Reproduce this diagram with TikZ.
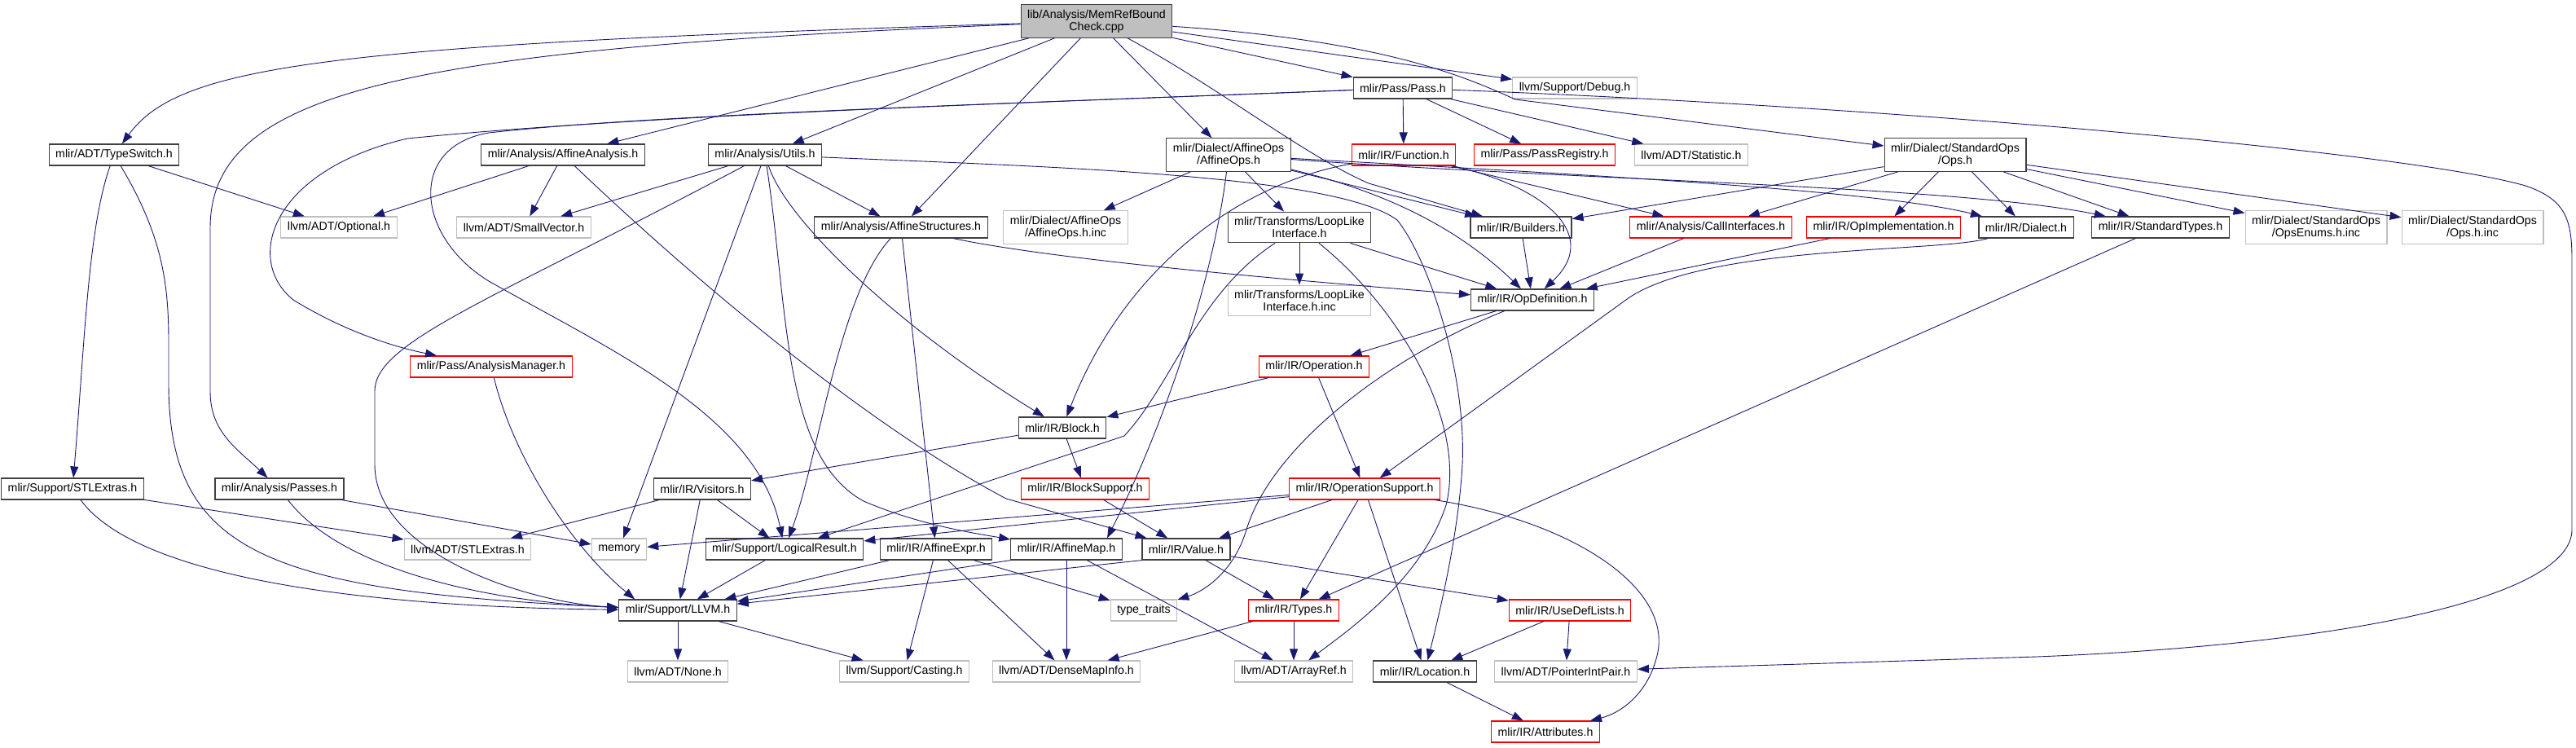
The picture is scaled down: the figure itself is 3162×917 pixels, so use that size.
\documentclass[tikz,border=0pt]{standalone}
\usepackage{fontspec}
\setmainfont{Liberation Sans}
\usetikzlibrary{arrows.meta}
\definecolor{edgeblue}{HTML}{191970}
\definecolor{greyA}{HTML}{404040}
\definecolor{greyB}{HTML}{BFBFBF}

\begin{document}
\begin{tikzpicture}[x=0.5pt,y=-0.5pt,
    nodebox/.style={draw,rectangle,fill=white,line width=0.6pt,align=center,
        inner xsep=4pt,inner ysep=3pt,minimum height=13pt,
        font=\fontsize{7.1}{7.6}\selectfont},
    docnode/.style={nodebox,draw=greyA},
    extnode/.style={nodebox,draw=greyB},
    trnode/.style={nodebox,draw=red},
    srcnode/.style={nodebox,draw=greyA,fill=greyB},
    incl/.style={draw=edgeblue,line width=0.45pt,-{Triangle[length=7pt,width=5pt]}}]
    \useasboundingbox (0,0) rectangle (3162,917);

    \node[srcnode] (src) at (1346,26) {lib/Analysis/MemRefBound\\Check.cpp};
    \node[docnode] (pass) at (1722,108) {mlir/Pass/Pass.h};
    \node[extnode] (debug) at (1933,108) {llvm/Support/Debug.h};
    \node[docnode] (typeswitch) at (140,190) {mlir/ADT/TypeSwitch.h};
    \node[docnode] (affan) at (691,190) {mlir/Analysis/AffineAnalysis.h};
    \node[docnode] (utils) at (939,190) {mlir/Analysis/Utils.h};
    \node[docnode] (affops) at (1508,190) {mlir/Dialect/AffineOps\\/AffineOps.h};
    \node[trnode] (function) at (1723,190) {mlir/IR/Function.h};
    \node[trnode] (passreg) at (1896,190) {mlir/Pass/PassRegistry.h};
    \node[extnode] (statistic) at (2076,190) {llvm/ADT/Statistic.h};
    \node[docnode] (stdops) at (2400,190) {mlir/Dialect/StandardOps\\/Ops.h};
    \node[extnode] (optional) at (416,279) {llvm/ADT/Optional.h};
    \node[extnode] (smallvec) at (643,279) {llvm/ADT/SmallVector.h};
    \node[docnode] (affstruct) at (1106,279) {mlir/Analysis/AffineStructures.h};
    \node[extnode] (affinc) at (1308,279) {mlir/Dialect/AffineOps\\/AffineOps.h.inc};
    \node[docnode] (looplike) at (1595,279) {mlir/Transforms/LoopLike\\Interface.h};
    \node[docnode] (builders) at (1867,279) {mlir/IR/Builders.h};
    \node[trnode] (callif) at (2100,279) {mlir/Analysis/CallInterfaces.h};
    \node[trnode] (opimpl) at (2312,279) {mlir/IR/OpImplementation.h};
    \node[docnode] (dialect) at (2487,279) {mlir/IR/Dialect.h};
    \node[docnode] (stdtypes) at (2652,279) {mlir/IR/StandardTypes.h};
    \node[extnode] (opsenums) at (2843,279) {mlir/Dialect/StandardOps\\/OpsEnums.h.inc};
    \node[extnode] (opsinc) at (3035,279) {mlir/Dialect/StandardOps\\/Ops.h.inc};
    \node[extnode] (loopinc) at (1595,369) {mlir/Transforms/LoopLike\\Interface.h.inc};
    \node[docnode] (opdef) at (1881,368) {mlir/IR/OpDefinition.h};
    \node[trnode] (anmgr) at (603,450) {mlir/Pass/AnalysisManager.h};
    \node[trnode] (operation) at (1613,450) {mlir/IR/Operation.h};
    \node[docnode] (block) at (1304,525) {mlir/IR/Block.h};
    \node[docnode] (stlmlir) at (89,600) {mlir/Support/STLExtras.h};
    \node[docnode] (passes) at (343,600) {mlir/Analysis/Passes.h};
    \node[docnode] (visitors) at (862,600) {mlir/IR/Visitors.h};
    \node[trnode] (blocksup) at (1332,600) {mlir/IR/BlockSupport.h};
    \node[trnode] (opsupport) at (1675,600) {mlir/IR/OperationSupport.h};
    \node[extnode] (stlllvm) at (574,674) {llvm/ADT/STLExtras.h};
    \node[extnode] (memory) at (760,674) {memory};
    \node[docnode] (logres) at (963,674) {mlir/Support/LogicalResult.h};
    \node[docnode] (affexpr) at (1149,674) {mlir/IR/AffineExpr.h};
    \node[docnode] (affmap) at (1309,674) {mlir/IR/AffineMap.h};
    \node[docnode] (value) at (1456,674) {mlir/IR/Value.h};
    \node[docnode] (llvm) at (832,749) {mlir/Support/LLVM.h};
    \node[extnode] (typetraits) at (1404,749) {type\_traits};
    \node[trnode] (types) at (1588,749) {mlir/IR/Types.h};
    \node[trnode] (usedef) at (1927,749) {mlir/IR/UseDefLists.h};
    \node[extnode] (none) at (832,824) {llvm/ADT/None.h};
    \node[extnode] (casting) at (1110,824) {llvm/Support/Casting.h};
    \node[extnode] (densemap) at (1309,824) {llvm/ADT/DenseMapInfo.h};
    \node[extnode] (arrayref) at (1588,824) {llvm/ADT/ArrayRef.h};
    \node[docnode] (location) at (1749,824) {mlir/IR/Location.h};
    \node[extnode] (pip) at (1922,824) {llvm/ADT/PointerIntPair.h};
    \node[trnode] (attributes) at (1897,898) {mlir/IR/Attributes.h};

    \draw[incl] (src) .. controls (400,55) and (220,80) .. (typeswitch);
    \draw[incl] (src) .. controls (500,60) and (258,110) .. (258,280) -- (258,480) .. controls (258,530) and (290,550) .. (passes);
    \draw[incl] (src) -- (affan);
    \draw[incl] (src) -- (utils);
    \draw[incl] (src) -- (affstruct);
    \draw[incl] (src) -- (affops);
    \draw[incl] (src) .. controls (1500,110) and (1600,190) .. (1680,225) -- (builders);
    \draw[incl] (src) -- (pass);
    \draw[incl] (src) -- (debug);
    \draw[incl] (src) .. controls (1700,50) and (1800,95) .. (1860,122) -- (stdops);

    \draw[incl] (pass) .. controls (1300,125) and (800,140) .. (500,170) .. controls (330,210) and (300,320) .. (360,368) .. controls (420,405) and (480,425) .. (anmgr);
    \draw[incl] (pass) .. controls (1300,125) and (800,140) .. (600,163) .. controls (500,180) and (510,290) .. (600,345) .. controls (750,430) and (930,510) .. (logres);
    \draw[incl] (pass) -- (function);
    \draw[incl] (pass) -- (passreg);
    \draw[incl] (pass) -- (statistic);
    \draw[incl] (pass) .. controls (2300,130) and (2950,185) .. (3100,228) .. controls (3150,245) and (3157,270) .. (3157,320) -- (3157,650) .. controls (3157,730) and (2900,790) .. (2500,806) -- (pip);

    \draw[incl] (function) .. controls (1520,225) and (1380,330) .. (block);
    \draw[incl] (function) -- (callif);
    \draw[incl] (function) .. controls (1900,230) and (1965,290) .. (opdef);

    \draw[incl] (affops) -- (affinc);
    \draw[incl] (affops) -- (looplike);
    \draw[incl] (affops) .. controls (1490,340) and (1430,520) .. ([xshift=25pt]affmap.north);
    \draw[incl] (affops) -- (builders);
    \draw[incl] (affops) .. controls (1700,235) and (1790,280) .. (opdef);
    \draw[incl] (affops) .. controls (1900,212) and (2300,232) .. (dialect);
    \draw[incl] (affops) .. controls (1950,222) and (2400,228) .. (stdtypes);

    \draw[incl] (utils) -- (smallvec);
    \draw[incl] (utils) .. controls (600,370) and (460,420) .. (460,480) -- (460,570) .. controls (460,680) and (650,740) .. (llvm);
    \draw[incl] (utils) -- (memory);
    \draw[incl] (utils) .. controls (968,380) and (960,560) .. (1060,615) .. controls (1130,645) and (1200,655) .. (affmap);
    \draw[incl] (utils) .. controls (965,270) and (1100,400) .. (block);
    \draw[incl] (utils) -- (affstruct);
    \draw[incl] (utils) .. controls (1300,205) and (1640,215) .. (1715,270) .. controls (1755,320) and (1800,460) .. (1795,570) .. controls (1790,660) and (1765,760) .. (location);

    \draw[incl] (affan) -- (optional);
    \draw[incl] (affan) -- (smallvec);
    \draw[incl] (affan) .. controls (880,370) and (1080,530) .. (1235,612) -- (value);

    \draw[incl] (typeswitch) -- (optional);
    \draw[incl] (typeswitch) .. controls (108,280) and (104,420) .. (stlmlir);
    \draw[incl] (typeswitch) .. controls (200,290) and (207,350) .. (207,420) -- (207,470) .. controls (207,680) and (330,725) .. (llvm);

    \draw[incl] (passes) -- (memory);
    \draw[incl] (passes) .. controls (420,700) and (600,738) .. (llvm);
    \draw[incl] (stlmlir) -- (stlllvm);
    \draw[incl] (stlmlir) .. controls (170,710) and (450,745) .. (llvm);
    \draw[incl] (anmgr) .. controls (630,560) and (700,670) .. ([xshift=10pt]llvm.north west);

    \draw[incl] (affstruct) .. controls (1030,360) and (1005,560) .. (logres);
    \draw[incl] (affstruct) -- (affexpr);
    \draw[incl] (affstruct) .. controls (1300,320) and (1600,345) .. (opdef);

    \draw[incl] (looplike) -- (loopinc);
    \draw[incl] (looplike) -- (opdef);
    \draw[incl] (looplike) .. controls (1470,360) and (1440,470) .. (1380,535) -- (logres);
    \draw[incl] (looplike) .. controls (1720,380) and (1800,520) .. (1775,620) .. controls (1745,710) and (1660,770) .. (arrayref);

    \draw[incl] (builders) -- (opdef);
    \draw[incl] (callif) -- (opdef);
    \draw[incl] (opimpl) -- (opdef);

    \draw[incl] (stdops) -- (builders);
    \draw[incl] (stdops) -- (callif);
    \draw[incl] (stdops) -- (opimpl);
    \draw[incl] (stdops) -- (dialect);
    \draw[incl] (stdops) -- (stdtypes);
    \draw[incl] (stdops) -- (opsenums);
    \draw[incl] (stdops) -- (opsinc);

    \draw[incl] (dialect) .. controls (2380,310) and (2100,300) .. (2000,365) -- (opsupport);
    \draw[incl] (stdtypes) -- (types);

    \draw[incl] (opdef) -- (operation);
    \draw[incl] (opdef) .. controls (1700,440) and (1560,550) .. (1530,650) .. controls (1515,700) and (1480,725) .. (typetraits);
    \draw[incl] (operation) -- (block);
    \draw[incl] (operation) -- (opsupport);
    \draw[incl] (block) -- (visitors);
    \draw[incl] (block) -- (blocksup);
    \draw[incl] (blocksup) -- (value);

    \draw[incl] (visitors) -- (stlllvm);
    \draw[incl] (visitors) -- (llvm);
    \draw[incl] (visitors) -- (logres);

    \draw[incl] (opsupport) -- (memory);
    \draw[incl] (opsupport) -- (logres);
    \draw[incl] (opsupport) -- (value);
    \draw[incl] (opsupport) -- (types);
    \draw[incl] (opsupport) -- (location);
    \draw[incl] (opsupport) .. controls (1930,640) and (2050,720) .. (2035,800) .. controls (2025,850) and (1990,875) .. (attributes);

    \draw[incl] (logres) -- (llvm);
    \draw[incl] (affexpr) -- (llvm);
    \draw[incl] (affexpr) -- (typetraits);
    \draw[incl] (affexpr) -- (casting);
    \draw[incl] (affexpr) -- (densemap);
    \draw[incl] (affmap.south west) -- (llvm);
    \draw[incl] (affmap) -- (densemap);
    \draw[incl] (affmap) -- (arrayref);
    \draw[incl] (value.south west) -- (llvm);
    \draw[incl] (value) -- (types);
    \draw[incl] (value) -- (usedef);
    \draw[incl] (types) -- (densemap);
    \draw[incl] (types) -- (arrayref);
    \draw[incl] (usedef) -- (location);
    \draw[incl] (usedef) -- (pip);
    \draw[incl] (location) -- (attributes);
    \draw[incl] (llvm) -- (none);
    \draw[incl] (llvm) -- (casting);
\end{tikzpicture}
\end{document}
